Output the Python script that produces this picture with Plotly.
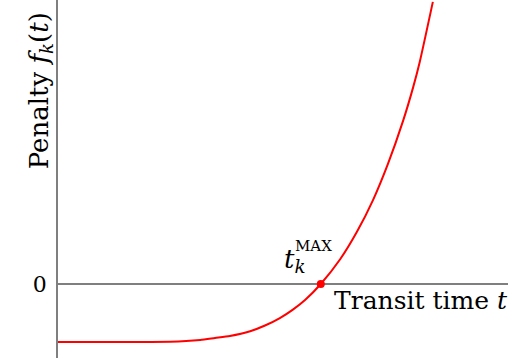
import plotly.graph_objects as go

# Penalty curve samples: transit time t and penalty f_k(t)
t_vals = [0.0, 0.93, 1.82, 2.49, 3.16, 3.49, 3.82, 4.27, 4.60, 4.93, 5.22,
          5.49, 5.84, 6.27, 6.64, 7.00, 7.33, 7.67, 7.89, 8.04, 8.33]
f_vals = [-1.0, -1.0, -0.998, -0.996, -0.965, -0.931, -0.897, -0.815, -0.716,
          -0.587, -0.441, -0.276, 0.0, 0.426, 0.895, 1.447, 2.067, 2.817,
          3.386, 3.833, 4.864]

# Point where the penalty crosses zero
t_max = [5.84]
f_at_tmax = [0.0]

y_tick_vals = [0]
y_tick_text = ["0"]

SERIF = "DejaVu Serif"
AXIS_GREY = "#7f7f7f"

fig = go.Figure()
fig.add_trace(go.Scatter(
    x=t_vals, y=f_vals, mode="lines",
    line=dict(color="#ff0000", width=2, shape="spline", smoothing=0.6),
    hoverinfo="skip", showlegend=False,
))
fig.add_trace(go.Scatter(
    x=t_max, y=f_at_tmax, mode="markers",
    marker=dict(color="#ff0000", size=8),
    hoverinfo="skip", showlegend=False,
))

fig.update_layout(
    width=508, height=358,
    margin=dict(l=58, r=0, t=0, b=0),
    paper_bgcolor="white", plot_bgcolor="white",
    xaxis=dict(range=[0, 10], showgrid=False, zeroline=False,
               showline=False, showticklabels=False, ticks=""),
    yaxis=dict(range=[-1.276, 4.897], showgrid=False,
               zeroline=True, zerolinecolor=AXIS_GREY, zerolinewidth=1.5,
               showline=True, linecolor=AXIS_GREY, linewidth=1.5,
               tickvals=y_tick_vals, ticktext=y_tick_text, ticks="",
               ticklabelstandoff=5,
               tickfont=dict(family=SERIF, size=22, color="black")),
)

# Axis labels and the t_k^MAX marker label
fig.add_annotation(
    text="Penalty <i>f<sub>k</sub></i>(<i>t</i>)", textangle=-90,
    xref="paper", yref="paper", x=-0.04, y=0.745,
    xanchor="center", yanchor="middle", showarrow=False,
    font=dict(family=SERIF, size=26, color="black"),
)
fig.add_annotation(
    text="Transit time <i>t</i>",
    xref="x", yref="y", x=6.09, y=-0.276,
    xanchor="left", yanchor="middle", showarrow=False,
    font=dict(family=SERIF, size=25, color="black"),
)
fig.add_annotation(
    text="<i>t<sub>k</sub></i>",
    xref="x", yref="y", x=4.98, y=0.40,
    xanchor="left", yanchor="middle", showarrow=False,
    font=dict(family=SERIF, size=26, color="black"),
)
fig.add_annotation(
    text="MAX",
    xref="x", yref="y", x=5.22, y=0.65,
    xanchor="left", yanchor="middle", showarrow=False,
    font=dict(family=SERIF, size=15, color="black"),
)

fig.write_html("out.html")
